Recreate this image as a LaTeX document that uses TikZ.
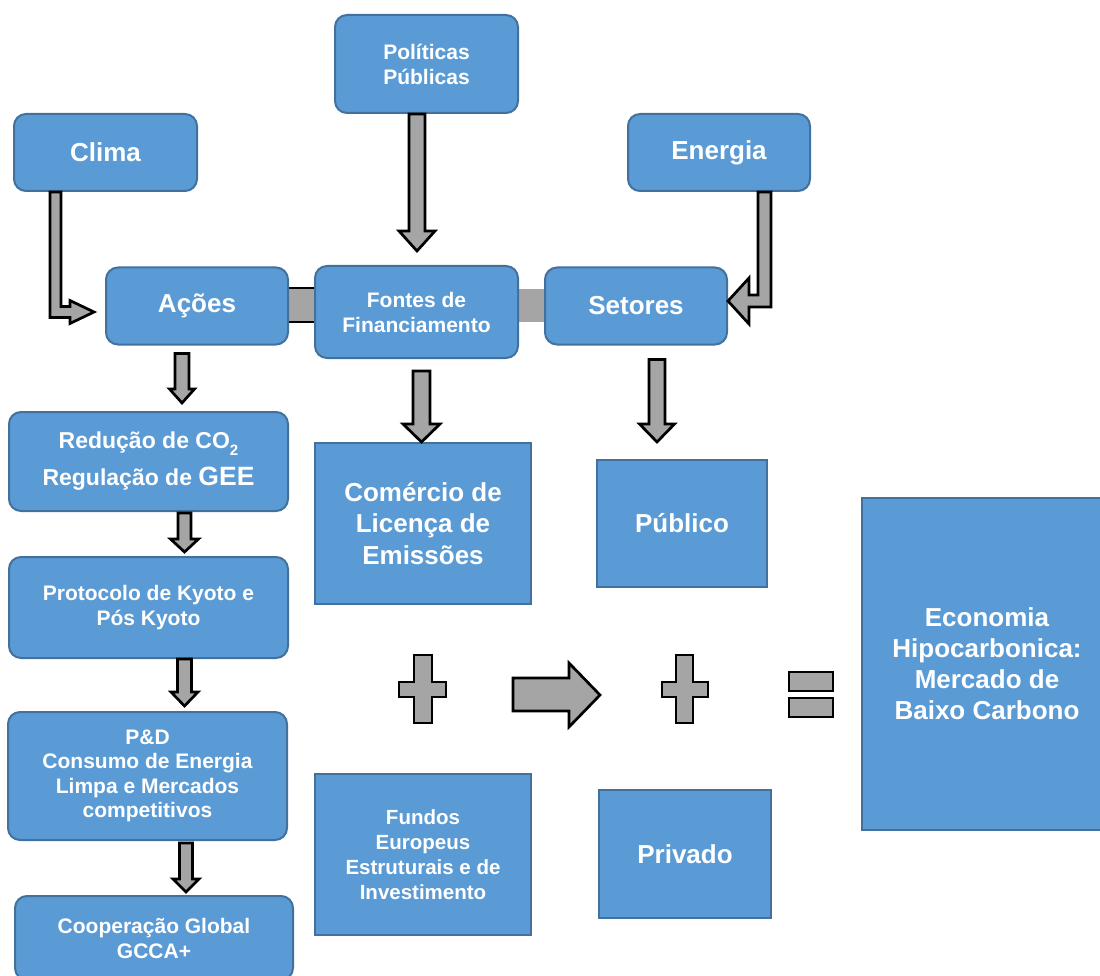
\documentclass[tikz,border=0pt]{standalone}
\usepackage{fontspec}
\setmainfont{Liberation Sans}
\usetikzlibrary{calc}

\definecolor{boxfill}{HTML}{5B9BD5}
\definecolor{boxline}{HTML}{41719C}
\definecolor{arrowgray}{HTML}{A5A5A5}

% straight block arrow pointing down: #1 start (top centre), #2 tip,
% #3 shaft half-width, #4 head half-width, #5 head length (all in pt)
\newcommand\blockdown[5]{%
  \draw[blockarrow] let \p1=#1, \p2=#2 in
    (\x1-#3pt,\y1) -- (\x1+#3pt,\y1) -- (\x1+#3pt,\y2+#5pt) -- (\x1+#4pt,\y2+#5pt)
    -- (\x1,\y2) -- (\x1-#4pt,\y2+#5pt) -- (\x1-#3pt,\y2+#5pt) -- cycle;}

\tikzset{
  rbox/.style={draw=boxline, fill=boxfill, line width=2pt, rounded corners=12pt,
    text=white, align=center, inner sep=0pt},
  sbox/.style={draw=boxline, fill=boxfill, line width=2pt,
    text=white, align=center, inner sep=0pt},
  txtsmall/.style={font=\bfseries\fontsize{21}{25}\selectfont},
  txtlarge/.style={font=\bfseries\fontsize{26}{31.5}\selectfont},
  blockarrow/.style={draw=black, fill=arrowgray, line width=2.7pt, line join=miter},
}

\begin{document}
\begin{tikzpicture}[x=1pt, y=-1pt]
\useasboundingbox (0,0) rectangle (1100,976);
\clip (0,0) rectangle (1100,976);

% links between the middle row of boxes
\draw[blockarrow] (288,288) rectangle (316,322);
\fill[arrowgray] (518,289) rectangle (545,322);

% top row
\node[rbox, txtsmall, minimum width=183pt, minimum height=98pt] (pol) at (426.5,64)
  {Políticas\\Públicas};
\node[rbox, txtlarge, minimum width=183pt, minimum height=77pt] (clima) at (105.5,152.5)
  {Clima};
\node[rbox, txtlarge, minimum width=182pt, minimum height=77pt] (energia) at (719,152.5)
  {Energia};

% middle row
\node[rbox, txtlarge, minimum width=182pt, minimum height=77pt] (acoes) at (197,306)
  {Ações};
\node[rbox, txtsmall, minimum width=203pt, minimum height=92pt] (fontes) at (416.5,312)
  {Fontes de\\Financiamento};
\node[rbox, txtlarge, minimum width=182pt, minimum height=77pt] (setores) at (636,306)
  {Setores};

% left column
\node[rbox, font=\bfseries\fontsize{23}{37}\selectfont,
      minimum width=279pt, minimum height=99pt] (reducao) at (148.5,461.5)
  {Redução de CO\raisebox{-7pt}{\fontsize{15}{15}\selectfont 2}\\
   Regulação de {\fontsize{26.5}{37}\selectfont GEE}};
\node[rbox, txtsmall, minimum width=279pt, minimum height=101pt] (protocolo) at (148.5,607.5)
  {Protocolo de Kyoto e\\Pós Kyoto};
\node[rbox, font=\bfseries\fontsize{21}{24.5}\selectfont,
      minimum width=279pt, minimum height=128pt] (pd) at (147.5,776)
  {P\&D\\Consumo de Energia\\Limpa e Mercados\\competitivos};
\node[rbox, txtsmall, minimum width=278pt, minimum height=84pt] (coop) at (154,938)
  {Cooperação Global\\GCCA+};

% result boxes
\node[sbox, txtlarge, minimum width=216pt, minimum height=161pt] (comercio) at (423,523.5)
  {Comércio de\\Licença de\\Emissões};
\node[sbox, txtlarge, minimum width=170pt, minimum height=127pt] (publico) at (682,523.5)
  {Público};
\node[sbox, font=\bfseries\fontsize{20.5}{25}\selectfont,
      minimum width=216pt, minimum height=161pt] (fundos) at (423,854.5)
  {Fundos\\Europeus\\Estruturais e de\\Investimento};
\node[sbox, txtlarge, minimum width=172pt, minimum height=128pt] (privado) at (685,854)
  {Privado};
\node[sbox, font=\bfseries\fontsize{26}{31}\selectfont,
      minimum width=250pt, minimum height=332pt] (economia) at (987,664)
  {Economia\\Hipocarbonica:\\Mercado de\\Baixo Carbono};

% bent arrows from the top corners
\draw[blockarrow] let \p1=([xshift=-50pt]clima.south),
                      \p2=([xshift=-11pt,yshift=-6pt]acoes.west) in
  (\x1-5.5pt,\y1) -- (\x1+5.5pt,\y1) -- (\x1+5.5pt,\y2+5.5pt) -- (\x2-24pt,\y2+5.5pt)
  -- (\x2-24pt,\y2+11.5pt) -- (\x2,\y2) -- (\x2-24pt,\y2-11.5pt) -- (\x2-24pt,\y2-5.5pt)
  -- (\x1-5.5pt,\y2-5.5pt) -- cycle;
\draw[blockarrow] let \p1=([xshift=45.5pt]energia.south),
                      \p2=([yshift=5pt]setores.east) in
  (\x1+6.5pt,\y1) -- (\x1-6.5pt,\y1) -- (\x1-6.5pt,\y2+6pt) -- (\x2+21pt,\y2+6pt)
  -- (\x2+21pt,\y2+23pt) -- (\x2,\y2) -- (\x2+21pt,\y2-23pt) -- (\x2+21pt,\y2-6pt)
  -- (\x1+6.5pt,\y2-6pt) -- cycle;

% straight arrows
\blockdown{([xshift=-9.5pt]pol.south)}{([yshift=14pt]fontes.north)}{8}{18}{20}
\blockdown{([xshift=-15pt,yshift=-8pt]acoes.south)}{([yshift=8pt]reducao.north)}{7}{12.5}{14}
\blockdown{([xshift=5pt,yshift=-12pt]fontes.south)}{(comercio.north)}{8.5}{18.5}{18}
\blockdown{([xshift=21pt,yshift=-14pt]setores.south)}{([yshift=17pt]publico.north)}{8}{17.5}{18}
\blockdown{([xshift=36pt,yshift=-1pt]reducao.south)}{([yshift=4pt]protocolo.north)}{6.5}{14}{13}
\blockdown{([xshift=36pt]protocolo.south)}{([yshift=5pt]pd.north)}{7}{13.5}{14}
\blockdown{([xshift=38.5pt,yshift=-2pt]pd.south)}{([yshift=3pt]coop.north)}{6.5}{13}{13}

% operators: plus, arrow, plus, equals
\draw[blockarrow] (414,655) -- (432,655) -- (432,682) -- (446,682) -- (446,697) -- (432,697)
  -- (432,723) -- (414,723) -- (414,697) -- (399,697) -- (399,682) -- (414,682) -- cycle;
\draw[blockarrow] (513,678) -- (569,678) -- (569,663) -- (600,695) -- (569,727) -- (569,711)
  -- (513,711) -- cycle;
\draw[blockarrow] (676,655) -- (693,655) -- (693,682) -- (708,682) -- (708,697) -- (693,697)
  -- (693,723) -- (676,723) -- (676,697) -- (662,697) -- (662,682) -- (676,682) -- cycle;
\draw[blockarrow] (789,672) rectangle (833,691);
\draw[blockarrow] (789,698) rectangle (833,717);
\end{tikzpicture}
\end{document}
